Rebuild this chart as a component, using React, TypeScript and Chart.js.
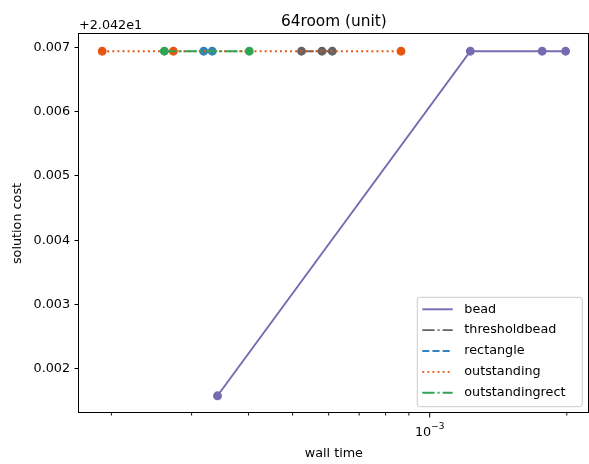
import React, { useEffect, useRef } from 'react';
import { Chart, registerables } from 'chart.js';

Chart.register(...registerables);

// ---- data ----
const Y_OFFSET_LABEL = '+2.042e1';
const TOP_COST = 20.42694;

const beadTime = [3.42e-4, 1.228e-3, 1.766e-3, 1.988e-3];
const beadCost = [20.42158, TOP_COST, TOP_COST, TOP_COST];

const thresholdbeadTime = [5.23e-4, 5.8e-4, 6.11e-4];
const thresholdbeadCost = [TOP_COST, TOP_COST, TOP_COST];

const rectangleTime = [3.19e-4, 3.33e-4];
const rectangleCost = [TOP_COST, TOP_COST];

const outstandingTime = [1.909e-4, 2.736e-4, 8.65e-4];
const outstandingCost = [TOP_COST, TOP_COST, TOP_COST];

const outstandingrectTime = [2.614e-4, 4.016e-4];
const outstandingrectCost = [TOP_COST, TOP_COST];

const yTickValues = [20.422, 20.423, 20.424, 20.425, 20.426, 20.427];
const yTickLabels = ['0.002', '0.003', '0.004', '0.005', '0.006', '0.007'];

const xMajorTicks = [1e-3];
const xMajorExponents = ['\u22123'];
const xMinorTicks = [2e-4, 3e-4, 4e-4, 5e-4, 6e-4, 7e-4, 8e-4, 9e-4, 2e-3];

const TITLE = '64room (unit)';
const X_TITLE = 'wall time';
const Y_TITLE = 'solution cost';

// ---- styling ----
const FONT = '"DejaVu Sans", sans-serif';
const PX = 92 / 72; // points -> pixels
const LW = 1.5 * PX;
const DASHED = [3.7 * 1.5 * PX, 1.6 * 1.5 * PX];
const DASHDOT = [6.4 * 1.5 * PX, 1.6 * 1.5 * PX, 1 * 1.5 * PX, 1.6 * 1.5 * PX];
const DOTTED = [1 * 1.5 * PX, 1.65 * 1.5 * PX];

function series(label: string, xs: number[], ys: number[], color: string, dash: number[], order: number) {
  return {
    label,
    data: xs.map((x, i) => ({ x, y: ys[i] })),
    showLine: true,
    borderColor: color,
    backgroundColor: color,
    borderWidth: LW,
    borderDash: dash,
    borderCapStyle: 'butt' as const,
    pointRadius: 3.85,
    pointHoverRadius: 3.85,
    pointBorderWidth: 1.1,
    pointBorderColor: color,
    pointBackgroundColor: color,
    order,
    clip: 10,
  };
}

const decorPlugin = {
  id: 'decor',
  afterDraw(chart: any) {
    const ctx = chart.ctx as CanvasRenderingContext2D;
    const { left, right, top, bottom } = chart.chartArea;
    const xs = chart.scales.x;
    ctx.save();

    // frame (spines)
    ctx.strokeStyle = '#000';
    ctx.lineWidth = 1;
    ctx.strokeRect(Math.round(left) - 0.5, Math.round(top) - 0.5, Math.round(right) - Math.round(left), Math.round(bottom) - Math.round(top));

    // x ticks
    ctx.fillStyle = '#000';
    ctx.strokeStyle = '#000';
    ctx.lineWidth = 0.8 * PX * 0.9;
    xMinorTicks.forEach((v) => {
      const px = xs.getPixelForValue(v);
      ctx.beginPath();
      ctx.moveTo(px, bottom);
      ctx.lineTo(px, bottom + 2 * PX);
      ctx.stroke();
    });
    ctx.lineWidth = 0.8 * PX;
    xMajorTicks.forEach((v, i) => {
      const px = xs.getPixelForValue(v);
      ctx.beginPath();
      ctx.moveTo(px, bottom);
      ctx.lineTo(px, bottom + 3.5 * PX);
      ctx.stroke();
      // label 10^exp
      ctx.textBaseline = 'alphabetic';
      ctx.textAlign = 'left';
      ctx.font = `${10 * PX}px ${FONT}`;
      const base = '10';
      const wBase = ctx.measureText(base).width;
      ctx.font = `${7 * PX}px ${FONT}`;
      const wExp = ctx.measureText(xMajorExponents[i]).width;
      const total = wBase + wExp;
      const x0 = px - total / 2;
      ctx.font = `${10 * PX}px ${FONT}`;
      ctx.fillText(base, x0, 435.7);
      ctx.font = `${7 * PX}px ${FONT}`;
      ctx.fillText(xMajorExponents[i], x0 + wBase, 429.3);
    });

    // title
    ctx.textAlign = 'center';
    ctx.textBaseline = 'alphabetic';
    ctx.font = `${12 * PX}px ${FONT}`;
    ctx.fillText(TITLE, (left + right) / 2, 25.8);

    // offset text
    ctx.textAlign = 'left';
    ctx.font = `${10 * PX}px ${FONT}`;
    ctx.fillText(Y_OFFSET_LABEL, left, 28.5);

    // x title
    ctx.textAlign = 'center';
    ctx.fillText(X_TITLE, (left + right) / 2, 457);

    // y title
    ctx.save();
    ctx.translate(20.5, (top + bottom) / 2);
    ctx.rotate(-Math.PI / 2);
    ctx.textAlign = 'center';
    ctx.textBaseline = 'alphabetic';
    ctx.fillText(Y_TITLE, 0, 0);
    ctx.restore();

    // legend
    const lx = 417.3, ly = 297.3, lw = 165, lh = 109.4, r = 2.6;
    ctx.beginPath();
    ctx.moveTo(lx + r, ly);
    ctx.lineTo(lx + lw - r, ly);
    ctx.arcTo(lx + lw, ly, lx + lw, ly + r, r);
    ctx.lineTo(lx + lw, ly + lh - r);
    ctx.arcTo(lx + lw, ly + lh, lx + lw - r, ly + lh, r);
    ctx.lineTo(lx + r, ly + lh);
    ctx.arcTo(lx, ly + lh, lx, ly + lh - r, r);
    ctx.lineTo(lx, ly + r);
    ctx.arcTo(lx, ly, lx + r, ly, r);
    ctx.closePath();
    ctx.fillStyle = 'rgba(255,255,255,0.8)';
    ctx.fill();
    ctx.strokeStyle = '#cccccc';
    ctx.lineWidth = 1;
    ctx.stroke();

    const rows = [...chart.data.datasets].sort((a: any, b: any) => b.order - a.order);
    rows.forEach((ds: any, i: number) => {
      const y = 309.3 + i * 20.85;
      ctx.beginPath();
      ctx.setLineDash(ds.borderDash || []);
      ctx.lineDashOffset = 0;
      ctx.lineCap = 'butt';
      ctx.strokeStyle = ds.borderColor;
      ctx.lineWidth = ds.borderWidth;
      ctx.moveTo(422.3, y);
      ctx.lineTo(452.7, y);
      ctx.stroke();
      ctx.setLineDash([]);
      ctx.fillStyle = '#000';
      ctx.textAlign = 'left';
      ctx.textBaseline = 'middle';
      ctx.font = `${10 * PX}px ${FONT}`;
      ctx.fillText(ds.label, 464.3, y);
    });

    ctx.restore();
  },
};

export default function App() {
  const canvasRef = useRef<HTMLCanvasElement | null>(null);

  useEffect(() => {
    document.body.style.margin = '0';
    const canvas = canvasRef.current;
    if (!canvas) return;
    const chart: any = new Chart(canvas, {
      type: 'scatter',
      data: {
        datasets: [
          series('bead', beadTime, beadCost, '#756bb1', [], 5),
          series('thresholdbead', thresholdbeadTime, thresholdbeadCost, '#636363', DASHDOT, 4),
          series('rectangle', rectangleTime, rectangleCost, '#3182bd', DASHED, 3),
          series('outstanding', outstandingTime, outstandingCost, '#e6550d', DOTTED, 2),
          series('outstandingrect', outstandingrectTime, outstandingrectCost, '#31a354', DASHDOT, 1),
        ] as any,
      },
      options: {
        responsive: false,
        animation: false,
        devicePixelRatio: 1,
        layout: { autoPadding: false, padding: { top: 34, right: 0.3, bottom: 0, left: 0 } },
        plugins: {
          legend: { display: false },
          title: { display: false },
          tooltip: { enabled: false },
        },
        scales: {
          x: {
            type: 'logarithmic',
            min: 1.6978e-4,
            max: 2.2344e-3,
            ticks: { display: false },
            grid: { display: false },
            border: { display: false },
            afterFit: (s: any) => {
              s.height = 51;
            },
          },
          y: {
            type: 'linear',
            min: 20.421312,
            max: 20.427208,
            afterBuildTicks: (s: any) => {
              s.ticks = yTickValues.map((value) => ({ value }));
            },
            ticks: {
              callback: (_v: any, i: number) => yTickLabels[i],
              color: '#000',
              padding: 3.5 * PX,
              font: { family: '"DejaVu Sans"', size: 10 * PX },
              autoSkip: false,
            },
            grid: {
              display: true,
              drawOnChartArea: false,
              drawTicks: true,
              tickLength: 3.5 * PX,
              tickColor: '#000',
              tickWidth: 0.8 * PX,
            },
            border: { display: false },
            afterFit: (s: any) => {
              s.width = 79;
            },
          },
        },
      } as any,
      plugins: [decorPlugin],
    });

    return () => chart.destroy();
  }, []);

  return (
    <div style={{ position: 'absolute', left: 0, top: 0, width: 589, height: 464 }}>
      <canvas ref={canvasRef} width={589} height={464} />
    </div>
  );
}
